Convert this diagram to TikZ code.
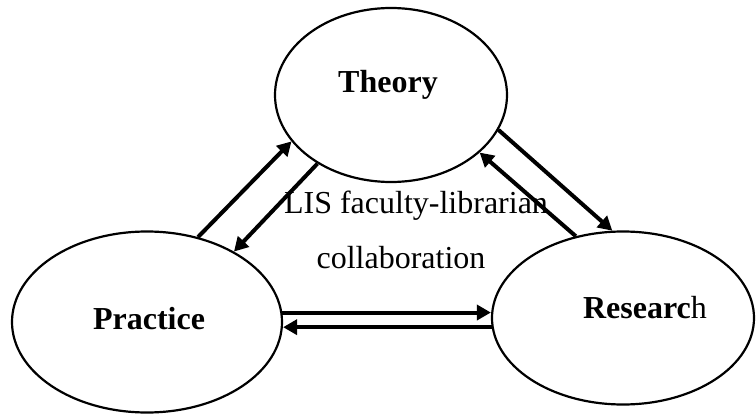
\documentclass[tikz,border=0pt]{standalone}
\usepackage{fontspec}
\setmainfont{Liberation Serif}
\usetikzlibrary{arrows.meta,shapes.geometric}

\begin{document}
\begin{tikzpicture}[x=1pt, y=1pt,
    E/.style = {ellipse, draw, line width=2.2pt,% the three ellipses
                inner sep=0pt},
    T/.style = {anchor=base, inner sep=0pt,% plain text
                font=\fontsize{32}{38}\selectfont},
    B/.style = {T, font=\fontsize{32}{38}\selectfont\bfseries},
    A/.style = {line width=4pt, -{Triangle[length=14pt,width=15pt]}},
                        ]
\useasboundingbox (0,0) rectangle (756,416);
% ellipses
\node[E, minimum width=232pt, minimum height=174pt] (theory)   at (391,321) {};
\node[E, minimum width=270pt, minimum height=181pt] (practice) at (147,94)  {};
\node[E, minimum width=262pt, minimum height=173pt] (research) at (623,98)  {};
% texts
\node[B] (theorytxt)   at (388,323) {Theory};
\node[B] (practicetxt) at (149,87)  {Practice};
\node[B] (researchtxt) at (645,98)  {Researc\textmd{h}};
\node[T] (lis)    at (416,203) {LIS faculty-librarian};
\node[T] (collab) at (401,148) {collaboration};
% arrows
\draw[A] (practice.59)  -- (theory.205);
\draw[A] (theory.223)   -- (practice.39);
\draw[A] (theory.342)   -- (research.97);
\draw[A] (research.120) -- (theory.327);
\draw[A] (practice.4)   -- (practice.4 -| research.west);
\draw[A] (research.184) -- (research.184 -| practice.east);
\end{tikzpicture}
\end{document}
